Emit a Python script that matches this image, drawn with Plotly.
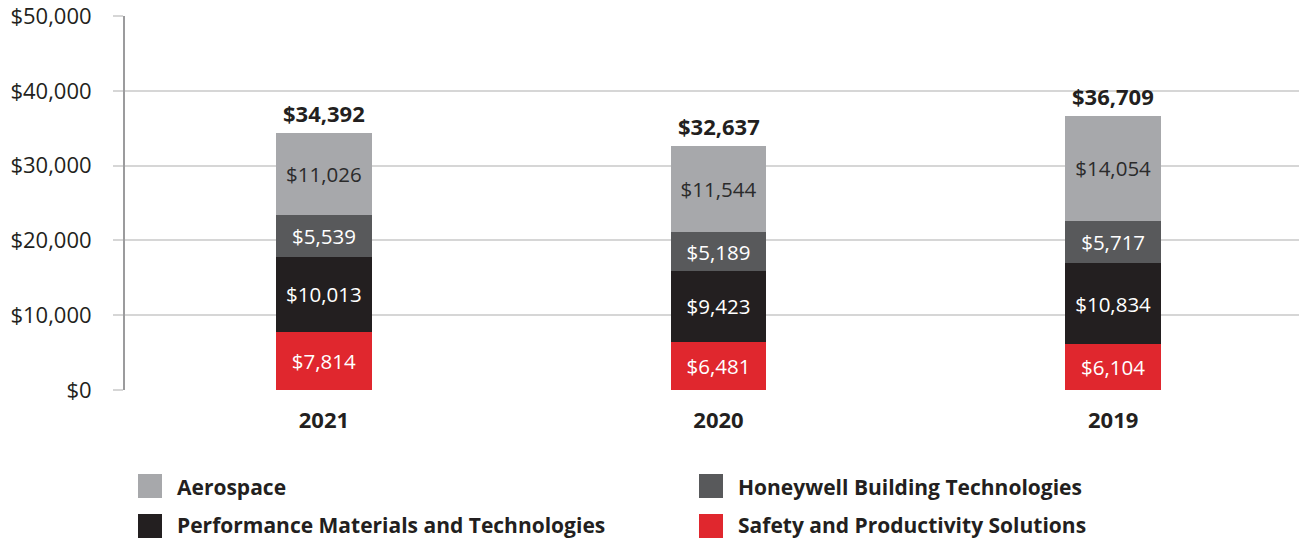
import plotly.graph_objects as go

# ---- data ----
years = ["2021", "2020", "2019"]
segments = [
    "Safety and Productivity Solutions",
    "Performance Materials and Technologies",
    "Honeywell Building Technologies",
    "Aerospace",
]
sps = [7814, 6481, 6104]
pmt = [10013, 9423, 10834]
hbt = [5539, 5189, 5717]
aero = [11026, 11544, 14054]
totals = [34392, 32637, 36709]
y_ticks = [0, 10000, 20000, 30000, 40000, 50000]
y_tick_labels = ["$0", "$10,000", "$20,000", "$30,000", "$40,000", "$50,000"]

# legend order (row by row)
legend_order = [
    "Aerospace",
    "Honeywell Building Technologies",
    "Performance Materials and Technologies",
    "Safety and Productivity Solutions",
]

# ---- style ----
FONT = "Open Sans, sans-serif"
colors = {
    "Aerospace": "#a7a8ab",
    "Honeywell Building Technologies": "#58595b",
    "Performance Materials and Technologies": "#231f20",
    "Safety and Productivity Solutions": "#e0272e",
}
text_colors = {
    "Aerospace": "#2b2b2b",
    "Honeywell Building Technologies": "#ffffff",
    "Performance Materials and Technologies": "#ffffff",
    "Safety and Productivity Solutions": "#ffffff",
}
W, H = 1299, 540
L, R, T, B = 125, 0, 16, 150
PW, PH = W - L - R, H - T - B
Y_MAX = 50000

values = {
    "Safety and Productivity Solutions": sps,
    "Performance Materials and Technologies": pmt,
    "Honeywell Building Technologies": hbt,
    "Aerospace": aero,
}

fig = go.Figure()
for name in segments:
    vals = values[name]
    fig.add_trace(go.Bar(
        x=years,
        y=vals,
        name=name,
        width=0.243,
        marker=dict(color=colors[name], line=dict(width=0)),
        text=[f"${v:,}" for v in vals],
        textposition="inside",
        insidetextanchor="middle",
        textangle=0,
        textfont=dict(family=FONT, size=20.5, color=text_colors[name]),
        showlegend=False,
        hoverinfo="skip",
    ))

annotations = []
for i, tot in enumerate(totals):
    annotations.append(dict(
        x=i, y=tot, xref="x", yref="y",
        text=f"<b>${tot:,}</b>",
        showarrow=False, yanchor="bottom", xanchor="center", yshift=3,
        font=dict(family=FONT, size=22, color="#231f20"),
    ))


def px_to_paper(px, py):
    return (px - L) / PW, (H - B - py) / PH


shapes = []
sw_x = [138, 699]
txt_x = [176, 737]
row_y = [486, 526]
txt_y = [487, 525]
for i, name in enumerate(legend_order):
    col, row = i % 2, i // 2
    x0, y0 = px_to_paper(sw_x[col], row_y[row] - 12)
    x1, y1 = px_to_paper(sw_x[col] + 24, row_y[row] + 12)
    shapes.append(dict(type="rect", xref="paper", yref="paper",
                       x0=x0, x1=x1, y0=y1, y1=y0,
                       fillcolor=colors[name], line=dict(width=0)))
    tx, ty = px_to_paper(txt_x[col], txt_y[row])
    annotations.append(dict(
        x=tx, y=ty, xref="paper", yref="paper",
        text=f"<b>{name}</b>", showarrow=False,
        xanchor="left", yanchor="middle", borderpad=0,
        font=dict(family=FONT, size=21, color="#231f20"),
    ))

fig.update_layout(
    width=W, height=H,
    margin=dict(l=L, r=R, t=T, b=B, pad=0),
    barmode="stack",
    plot_bgcolor="white", paper_bgcolor="white",
    font=dict(family=FONT, color="#231f20"),
    annotations=annotations,
    shapes=shapes,
    showlegend=False,
    xaxis=dict(
        type="category",
        categoryorder="array", categoryarray=years,
        range=[-0.504, 2.471],
        showgrid=False, showline=False, zeroline=False,
        ticks="",
        tickfont=dict(family=FONT, size=22, color="#231f20", weight="bold"),
        ticklabelstandoff=15,
        fixedrange=True,
    ),
    yaxis=dict(
        range=[0, Y_MAX * 1.0004],
        tickvals=y_ticks, ticktext=y_tick_labels,
        showgrid=True, gridcolor="#d6d6d6", gridwidth=1.5,
        zeroline=False,
        showline=True, linecolor="#9b9b9d", linewidth=2,
        ticks="outside", ticklen=10, tickwidth=1.5, tickcolor="#d6d6d6",
        tickfont=dict(family=FONT, size=22, color="#231f20"),
        ticklabelstandoff=17,
        ticklabeloverflow="allow",
        fixedrange=True,
    ),
)

fig.write_html(
    "out.html",
    config={"displayModeBar": False},
    post_script="document.body.style.margin='0';document.body.style.overflow='hidden';",
)
